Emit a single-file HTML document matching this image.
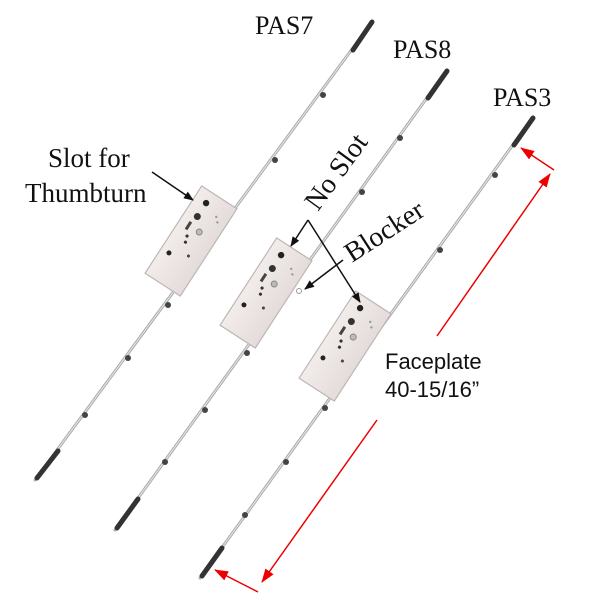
<!DOCTYPE html>
<html><head><meta charset="utf-8"><style>
html,body{margin:0;padding:0;background:#fff;}
svg{display:block;}
.s{font-family:"Liberation Serif",serif;fill:#111;}
.a{font-family:"Liberation Sans",sans-serif;fill:#111;}
</style></head><body>
<svg width="600" height="600" viewBox="0 0 600 600" xmlns="http://www.w3.org/2000/svg">
<defs>
<marker id="ka" markerWidth="10" markerHeight="8" refX="9" refY="4" orient="auto" markerUnits="userSpaceOnUse"><path d="M0,0 L10,4 L0,8 z" fill="#111"/></marker>
<marker id="ra" markerWidth="14" markerHeight="10" refX="13" refY="5" orient="auto" markerUnits="userSpaceOnUse"><path d="M0,0 L14,5 L0,10 z" fill="#e00"/></marker>
<linearGradient id="pl" x1="0" x2="1"><stop offset="0" stop-color="#f2ecea"/><stop offset="1" stop-color="#e4dcda"/></linearGradient>
<g id="body">
<rect x="-21" y="-52" width="42" height="104" fill="url(#pl)" stroke="#bdb6b4" stroke-width="1.2"/>
<circle cx="-8" cy="-40" r="3.2" fill="#222"/>
<circle cx="-8" cy="-24" r="3.5" fill="#333"/>
<rect x="-12" y="-16" width="3" height="9" fill="#444"/>
<circle cx="2" cy="-12" r="3" fill="#bbb" stroke="#888"/>
<circle cx="-6" cy="-2" r="1.6" fill="#333"/>
<circle cx="-4" cy="4" r="1.6" fill="#333"/>
<circle cx="-12" cy="22" r="2.5" fill="#222"/>
<circle cx="6" cy="14" r="1.5" fill="#444"/>
<circle cx="8" cy="-34" r="1.2" fill="#999"/><circle cx="12" cy="-30" r="1.2" fill="#999"/>
</g>
</defs>
<g stroke-linecap="round">
<line x1="372" y1="22" x2="35" y2="480" stroke="#aaa" stroke-width="3"/>
<line x1="372" y1="22" x2="35" y2="480" stroke="#e8e8e8" stroke-width="1"/>
<line x1="447" y1="70" x2="115" y2="530" stroke="#aaa" stroke-width="3"/>
<line x1="447" y1="70" x2="115" y2="530" stroke="#e8e8e8" stroke-width="1"/>
<line x1="533" y1="117" x2="200" y2="578" stroke="#aaa" stroke-width="3"/>
<line x1="533" y1="117" x2="200" y2="578" stroke="#e8e8e8" stroke-width="1"/>
<line x1="372" y1="22" x2="353" y2="50" stroke="#333" stroke-width="5"/>
<line x1="37" y1="478" x2="58" y2="451" stroke="#333" stroke-width="5"/>
<line x1="447" y1="71" x2="428" y2="98" stroke="#333" stroke-width="5"/>
<line x1="117" y1="528" x2="138" y2="499" stroke="#333" stroke-width="5"/>
<line x1="533" y1="118" x2="514" y2="145" stroke="#333" stroke-width="5"/>
<line x1="202" y1="576" x2="222" y2="548" stroke="#333" stroke-width="5"/>
</g>
<g fill="#444">
<circle cx="323" cy="95" r="3"/><circle cx="275" cy="160" r="3"/><circle cx="168" cy="305" r="3"/><circle cx="128" cy="358" r="3"/><circle cx="85" cy="415" r="3"/>
<circle cx="400" cy="138" r="3"/><circle cx="362" cy="192" r="3"/><circle cx="247" cy="353" r="3"/><circle cx="205" cy="410" r="3"/><circle cx="165" cy="462" r="3"/>
<circle cx="495" cy="175" r="3"/><circle cx="440" cy="250" r="3"/><circle cx="325" cy="408" r="3"/><circle cx="286" cy="462" r="3"/><circle cx="245" cy="515" r="3"/>
</g>
<use href="#body" transform="translate(191,241) rotate(33)"/>
<use href="#body" transform="translate(266,293) rotate(33)"/>
<use href="#body" transform="translate(345,346) rotate(33)"/>
<circle cx="299" cy="291" r="2.5" fill="#fff" stroke="#999"/>
<text class="s" x="255" y="34" font-size="26">PAS7</text>
<text class="s" x="393" y="58" font-size="26">PAS8</text>
<text class="s" x="493" y="106" font-size="26">PAS3</text>
<text class="s" x="48" y="167" font-size="27">Slot for</text>
<text class="s" x="25" y="202" font-size="27">Thumbturn</text>
<text class="s" font-size="28" transform="translate(318,212) rotate(-54)">No Slot</text>
<text class="s" font-size="28" transform="translate(352,263) rotate(-33)">Blocker</text>
<text class="a" x="385" y="369" font-size="22">Faceplate</text>
<text class="a" x="385" y="397" font-size="22">40-15/16”</text>
<g stroke="#111" stroke-width="1.5" fill="none">
<line x1="152" y1="172" x2="193" y2="200" marker-end="url(#ka)"/>
<line x1="308" y1="220" x2="291" y2="246" marker-end="url(#ka)"/>
<line x1="308" y1="220" x2="360" y2="302" marker-end="url(#ka)"/>
<line x1="343" y1="260" x2="305" y2="289" marker-end="url(#ka)"/>
</g>
<g stroke="#e00" stroke-width="1.5" fill="none">
<line x1="554" y1="170" x2="521" y2="148" marker-end="url(#ra)"/>
<line x1="437" y1="336" x2="550" y2="174" marker-end="url(#ra)"/>
<line x1="377" y1="420" x2="262" y2="582" marker-end="url(#ra)"/>
<line x1="258" y1="592" x2="215" y2="570" marker-end="url(#ra)"/>
</g>
</svg>
</body></html>
